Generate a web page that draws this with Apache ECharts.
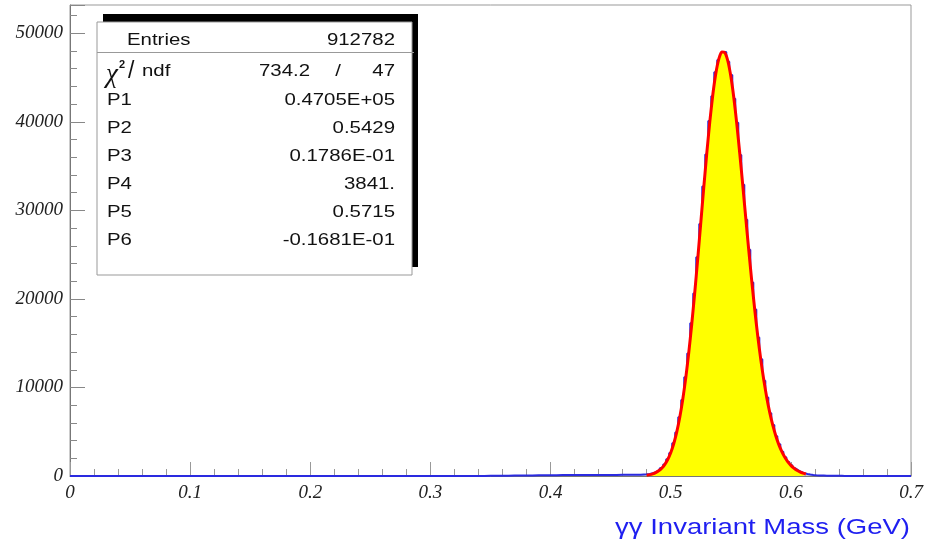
<!DOCTYPE html>
<html>
<head>
<meta charset="utf-8">
<script src="https://cdn.jsdelivr.net/npm/echarts@6/dist/echarts.min.js"></script>
<style>
html,body{margin:0;padding:0;background:#fff;}
#chart{width:929px;height:545px;}
</style>
</head>
<body>
<div id="chart"></div>
<script>
// ---- data ----
const xTickLabels = ['0','0.1','0.2','0.3','0.4','0.5','0.6','0.7'];
const yTickLabels = ['0','10000','20000','30000','40000','50000'];

// low-mass side of histogram (bin centre, counts)
const lowX      = [0, 0.34, 0.35, 0.36, 0.37, 0.38, 0.39, 0.40, 0.41, 0.42, 0.43, 0.44, 0.45, 0.46, 0.465, 0.47, 0.4725];
const lowCounts = [0, 0,    20,   40,   60,   70,   90,   80,   100,  110,  100,  120,  110,  130,  140,   150,  150];

// peak region, bins of 0.0025 starting at 0.475
const peakStart = 0.475;
const binWidth = 0.0025;
const peakCounts = [150,170,190,230,300,420,610,900,1310,1880,
  2610,3700,4900,6650,8580,11150,13850,17250,20600,24700,
  28450,32700,36300,40100,42900,45600,47000,47600,47900,46800,
  45300,42600,39900,36250,32900,28950,25550,21850,18800,15650,
  13200,10750,8880,7080,5750,4490,3580,2730,2130,1590,
  1210,870,650,450,330,220,160,110,80,60,50];

// high-mass tail
const highX      = [0.63, 0.635, 0.64, 0.645, 0.65, 0.7];
const highCounts = [40,   30,    20,   10,    0,    0];

// fit curve, sampled every 0.0025 from 0.48 to 0.6125
const fitStart = 0.48;
const fitValues = [95,154,246,383,586,877,1290,1860,2629,3646,
  4956,6604,8629,11056,13903,17139,20718,24559,28554,32566,
  36429,39976,43029,45444,47097,47905,47835,46903,45169,42750,
  39773,36398,32789,29093,25447,21956,18708,15747,13113,10807,
  8819,7129,5706,4524,3548,2755,2114,1601,1197,881,
  638,456,319,220];

const statRows = [
  ['P1','0.4705E+05'],
  ['P2','0.5429'],
  ['P3','0.1786E-01'],
  ['P4','3841.'],
  ['P5','0.5715'],
  ['P6','-0.1681E-01']
];
const entries = '912782';
const chi2 = '734.2';
const ndf = '47';

// ---- build ----
const hist = [];
lowX.forEach((x,i)=>hist.push([x, lowCounts[i]]));
peakCounts.forEach((c,i)=>hist.push([+(peakStart + i*binWidth).toFixed(4), c]));
highX.forEach((x,i)=>hist.push([x, highCounts[i]]));
const fit = fitValues.map((v,i)=>[+(fitStart + i*binWidth).toFixed(4), v]);

const chart = echarts.init(document.getElementById('chart'));
const sans = '"Liberation Sans", Arial, sans-serif';
const serif = '"Liberation Serif", "Times New Roman", serif';
const SX = 1.2;
const FS = 17;

function txt(x, y, text, align, extra){
  return Object.assign({type:'text', x:x, y:y, scaleX:SX, z:103,
    style:{text:text, fontFamily:sans, fontSize:FS, fill:'#111', align:align, verticalAlign:'middle'}}, extra||{});
}

const graphics = [
  {type:'rect', shape:{x:103, y:14, width:315, height:253}, style:{fill:'#000'}, z:100},
  {type:'rect', shape:{x:97, y:22, width:315, height:253}, style:{fill:'#fff', stroke:'#999', lineWidth:1}, z:101},
  {type:'line', shape:{x1:97, y1:52.5, x2:414, y2:52.5}, style:{stroke:'#999', lineWidth:1}, z:102},
  txt(127, 40, 'Entries', 'left'),
  txt(395, 40, entries, 'right'),
  {type:'text', x:106, y:75, z:103, style:{text:'χ', fontFamily:serif, fontStyle:'italic', fontSize:27, fill:'#111', align:'left', verticalAlign:'middle'}},
  {type:'text', x:119, y:65, z:103, style:{text:'2', fontFamily:sans, fontSize:11, fontWeight:'bold', fill:'#111', align:'left', verticalAlign:'middle'}},
  {type:'text', x:128, y:72, z:103, style:{text:'/', fontFamily:sans, fontSize:23, fill:'#111', align:'left', verticalAlign:'middle'}},
  txt(142, 71, 'ndf', 'left'),
  txt(310, 71, chi2, 'right'),
  txt(338, 71, '/', 'center'),
  txt(395, 71, ndf, 'right'),
  {type:'text', x:910, y:528, scaleX:1.25, z:103, style:{text:'γγ Invariant Mass (GeV)', fontFamily:sans, fontSize:22, fill:'#1f1ff0', align:'right', verticalAlign:'middle'}}
];
statRows.forEach((r,i)=>{
  const y = 100 + i*28;
  graphics.push(txt(107, y, r[0], 'left'));
  graphics.push(txt(395, y, r[1], 'right'));
});

const option = {
  animation:false,
  backgroundColor:'#fff',
  grid:{left:70, right:18, top:5, bottom:69, show:true, borderColor:'#999', borderWidth:1, backgroundColor:'transparent'},
  xAxis:{
    type:'value', min:0, max:0.7, interval:0.1,
    axisLine:{show:true, onZero:false, lineStyle:{color:'#777', width:1}},
    axisTick:{show:true, inside:true, length:14, lineStyle:{color:'#999'}},
    minorTick:{show:true, splitNumber:5, length:7, lineStyle:{color:'#999'}},
    splitLine:{show:false},
    axisLabel:{margin:7, fontFamily:serif, fontStyle:'italic', fontSize:19, color:'#222',
      formatter:(v)=>{const i=Math.round(v*10); return xTickLabels[i] ?? '';}}
  },
  yAxis:{
    type:'value', min:0, max:53200, interval:10000,
    axisLine:{show:true, lineStyle:{color:'#777', width:1}},
    axisTick:{show:true, inside:true, length:15, lineStyle:{color:'#888'}},
    minorTick:{show:true, splitNumber:5, length:7, lineStyle:{color:'#888'}},
    splitLine:{show:false},
    axisLabel:{margin:7, showMaxLabel:false, fontFamily:serif, fontStyle:'italic', fontSize:19, color:'#222',
      formatter:(v)=>{const i=Math.round(v/10000); return (v%10000===0 && yTickLabels[i]) ? yTickLabels[i] : '';}}
  },
  series:[
    {type:'line', data:hist, step:'middle', showSymbol:false, z:2,
      lineStyle:{color:'#2a2ae0', width:2}},
    {type:'line', data:fit, showSymbol:false, smooth:0.2, z:3,
      lineStyle:{color:'#ff0000', width:3},
      areaStyle:{color:'#ffff00', opacity:1}}
  ],
  graphic:graphics
};
chart.setOption(option);
</script>
</body>
</html>
